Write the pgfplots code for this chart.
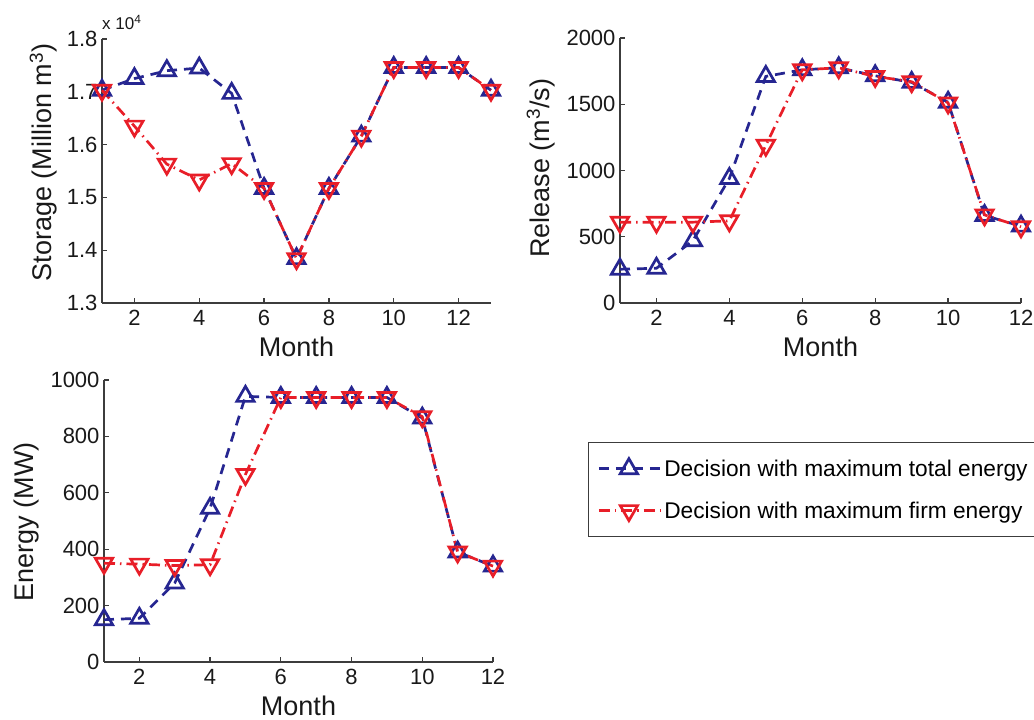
\documentclass[border=0pt]{standalone}
\usepackage{pgfplots}
\pgfplotsset{compat=1.18}
\usepackage{fontspec}
\setmainfont{Liberation Sans}
\definecolor{myblue}{RGB}{38,38,145}
\definecolor{myred}{RGB}{232,30,40}
\definecolor{axgray}{RGB}{60,60,60}

\pgfplotsset{
  mstyle/.style={
    scale only axis,
    axis x line=bottom, axis y line=left,
    axis line style={axgray, line width=1.4pt, -},
    tick align=inside,
    major tick length=5pt,
    tick style={axgray, line width=1.2pt},
    xtick={2,4,...,12},
    xmin=1,
    tick label style={font=\fontsize{22}{24}\selectfont, text=black!90},
    label style={font=\fontsize{27}{30}\selectfont, text=black!90},
    /pgf/number format/assume math mode=true,
    /pgf/number format/1000 sep={},
    xticklabel style={yshift=-4pt},
    yticklabel style={xshift=-1pt},
    xlabel={Month},
    xlabel style={at={(axis description cs:0.5,0)}, anchor=north, inner sep=0pt, yshift=-34pt},
    ylabel style={anchor=base, inner sep=0pt},
    clip=false,
  },
  bl/.style={myblue, line width=2.7pt, dash pattern=on 10pt off 7pt, mark=triangle, mark size=10pt, mark options={solid, line width=2.7pt}},
  rd/.style={myred, line width=2.7pt, dash pattern=on 11pt off 5pt on 1.5pt off 5pt, mark=triangle, mark size=10pt, mark options={solid, rotate=180, line width=2.7pt}},
}

\begin{document}
\begin{tikzpicture}
\useasboundingbox (0,0) rectangle (1034pt,720pt);

% Storage
\begin{axis}[mstyle,
  at={(102pt,417pt)}, anchor=south west,
  width=389pt, height=264pt,
  xmax=13,
  ymin=13000, ymax=18000,
  ytick={13000,14000,15000,16000,17000,18000},
  scaled y ticks=base 10:-4,
  yticklabel style={/pgf/number format/fixed, /pgf/number format/precision=1, /pgf/number format/fixed zerofill},
  ytick scale label code/.code={x 10\textsuperscript{4}},
  every y tick scale label/.style={at={(rel axis cs:0,1)}, anchor=south west, inner sep=0pt, xshift=1pt, yshift=9pt, font=\fontsize{17}{19}\selectfont},
  ylabel={Storage (Million m\textsuperscript{3})},
  ylabel style={at={(axis description cs:-0.129,0.533)}},
]
\addplot[bl] coordinates {(1,17030) (2,17250) (3,17400) (4,17450) (5,16970) (6,15170) (7,13840) (8,15170) (9,16160) (10,17460) (11,17460) (12,17460) (13,17030)};
\addplot[rd] coordinates {(1,17030) (2,16350) (3,15630) (4,15330) (5,15640) (6,15170) (7,13840) (8,15170) (9,16160) (10,17460) (11,17460) (12,17460) (13,17030)};
\end{axis}

% Release
\begin{axis}[mstyle,
  at={(620pt,417pt)}, anchor=south west,
  width=401pt, height=265pt,
  xmax=12,
  ymin=0, ymax=2000,
  ytick={0,500,1000,1500,2000},
  ylabel={Release (m\textsuperscript{3}/s)},
  ylabel style={at={(axis description cs:-0.177,0.508)}},
]
\addplot[bl] coordinates {(1,255) (2,262) (3,470) (4,940) (5,1710) (6,1760) (7,1775) (8,1715) (9,1665) (10,1515) (11,660) (12,580)};
\addplot[rd] coordinates {(1,610) (2,610) (3,610) (4,620) (5,1190) (6,1760) (7,1775) (8,1710) (9,1670) (10,1510) (11,665) (12,575)};
\end{axis}

% Energy
\begin{axis}[mstyle,
  at={(104pt,58pt)}, anchor=south west,
  width=389pt, height=282pt,
  xmax=12,
  ymin=0, ymax=1000,
  ytick={0,200,400,600,800,1000},
  ylabel={Energy (MW)},
  ylabel style={at={(axis description cs:-0.182,0.497)}},
  legend style={at={(axis description cs:1.244,0.780)}, anchor=north west,
    draw=axgray, line width=1.3pt, font=\fontsize{22.7}{25}\selectfont,
    inner xsep=9pt, inner ysep=15pt, row sep=20pt, cells={anchor=west}},
  legend cell align=left,
  legend image code/.code={\draw[mark repeat=2, mark phase=2, #1] plot coordinates {(0pt,0pt) (30pt,0pt) (62pt,0pt)};},
]
\addplot[bl] coordinates {(1,150) (2,155) (3,280) (4,545) (5,942) (6,938) (7,938) (8,938) (9,938) (10,865) (11,390) (12,340)};
\addplot[rd] coordinates {(1,350) (2,347) (3,342) (4,345) (5,665) (6,938) (7,938) (8,938) (9,938) (10,870) (11,390) (12,340)};
\legend{Decision with maximum total energy, Decision with maximum firm energy}
\end{axis}
\end{tikzpicture}
\end{document}
